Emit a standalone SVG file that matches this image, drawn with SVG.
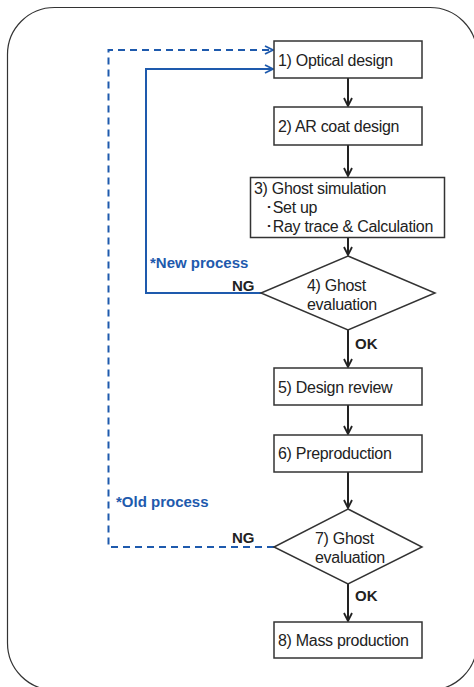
<svg xmlns="http://www.w3.org/2000/svg" width="474" height="687" viewBox="0 0 474 687">
<defs>
<style>
.box{fill:#fff;stroke:#333;stroke-width:1.5}
.t{font-family:"Liberation Sans",Arial,sans-serif;font-size:16px;letter-spacing:-0.3px;fill:#222}
.b{font-family:"Liberation Sans",Arial,sans-serif;font-size:15px;font-weight:bold}
.blk{stroke:#222;stroke-width:2;fill:none}
.blue{stroke:#1e5aad;stroke-width:2;fill:none}
.dash{stroke-dasharray:7,5}
</style>
<marker id="ak" viewBox="0 0 10 10" refX="9" refY="5" markerWidth="10" markerHeight="10" markerUnits="userSpaceOnUse" orient="auto">
<path d="M1,1 L9,5 L1,9" fill="none" stroke="#222" stroke-width="1.8"/>
</marker>
<marker id="ab" viewBox="0 0 10 10" refX="9" refY="5" markerWidth="10" markerHeight="10" markerUnits="userSpaceOnUse" orient="auto">
<path d="M1,1 L9,5 L1,9" fill="none" stroke="#1e5aad" stroke-width="1.8"/>
</marker>
</defs>
<rect x="7.5" y="7.5" width="469.5" height="682.5" rx="47" ry="47" fill="#fff" stroke="#333" stroke-width="1.2"/>
<g id="connectors">
<line class="blk" x1="348" y1="78" x2="348" y2="106" marker-end="url(#ak)"/>
<line class="blk" x1="348" y1="145" x2="348" y2="176" marker-end="url(#ak)"/>
<line class="blk" x1="348" y1="237" x2="348" y2="255" marker-end="url(#ak)"/>
<line class="blk" x1="348" y1="330" x2="348" y2="367" marker-end="url(#ak)"/>
<line class="blk" x1="348" y1="405" x2="348" y2="434" marker-end="url(#ak)"/>
<line class="blk" x1="348" y1="472" x2="348" y2="508" marker-end="url(#ak)"/>
<line class="blk" x1="348" y1="584" x2="348" y2="621" marker-end="url(#ak)"/>
<path class="blue" d="M261,293 H146 V69 H273" marker-end="url(#ab)"/>
<path class="blue dash" d="M274,547 H108.5 V50 H273" marker-end="url(#ab)"/>
</g>
<g id="n1"><rect class="box" x="274" y="41" width="148" height="37"/><text class="t" x="278" y="66">1) Optical design</text></g>
<g id="n2"><rect class="box" x="274" y="107" width="148" height="38"/><text class="t" x="278" y="132">2) AR coat design</text></g>
<g id="n3"><rect class="box" x="250.5" y="177.5" width="194" height="60"/>
<text class="t" x="254" y="194">3) Ghost simulation</text>
<text class="t" x="265" y="213">･Set up</text>
<text class="t" x="265" y="232">･Ray trace &amp; Calculation</text></g>
<g id="n4"><polygon class="box" points="348,256 435,293 348,330 261,293"/>
<text class="t" x="307" y="291">4) Ghost</text><text class="t" x="307" y="310">evaluation</text></g>
<g id="n5"><rect class="box" x="274" y="368" width="148" height="37"/><text class="t" x="278" y="393">5) Design review</text></g>
<g id="n6"><rect class="box" x="274" y="435" width="148" height="37"/><text class="t" x="278" y="459">6) Preproduction</text></g>
<g id="n7"><polygon class="box" points="348,509 422,547 348,584 274,547"/>
<text class="t" x="315" y="544">7) Ghost</text><text class="t" x="315" y="563">evaluation</text></g>
<g id="n8"><rect class="box" x="274" y="622" width="148" height="36"/><text class="t" x="278" y="646">8) Mass production</text></g>
<g id="labels">
<text class="b" x="150" y="268" fill="#1e5aad">*New process</text>
<text class="b" x="232" y="291" fill="#222">NG</text>
<text class="b" x="355" y="349" fill="#222">OK</text>
<text class="b" x="116" y="507" fill="#1e5aad">*Old process</text>
<text class="b" x="232" y="543" fill="#222">NG</text>
<text class="b" x="355" y="601" fill="#222">OK</text>
</g>
</svg>
